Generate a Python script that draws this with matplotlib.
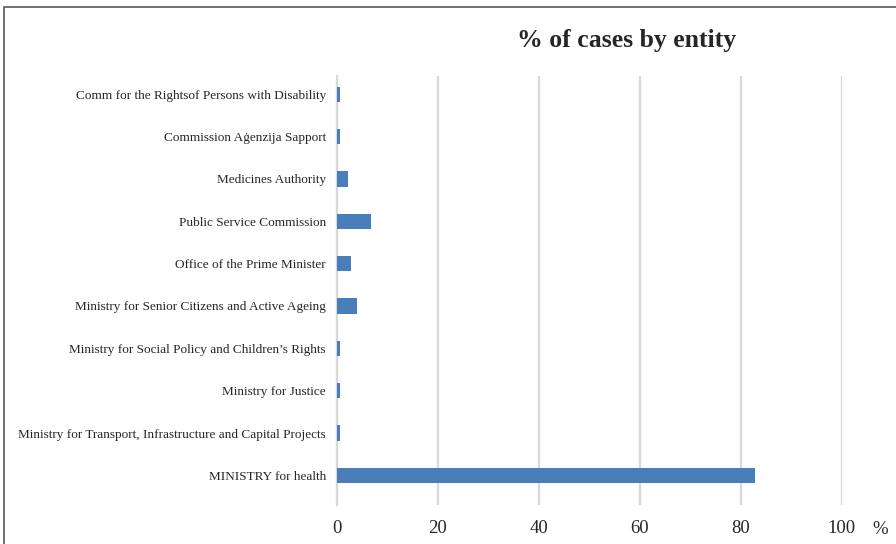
import matplotlib
matplotlib.use("Agg")
import matplotlib.pyplot as plt
from matplotlib.patches import Rectangle

categories = [
    "MINISTRY for health",
    "Ministry for Transport, Infrastructure and Capital Projects",
    "Ministry for Justice",
    "Ministry for Social Policy and Children\u2019s Rights",
    "Ministry for Senior Citizens and Active Ageing",
    "Office of the Prime Minister",
    "Public Service Commission",
    "Medicines Authority",
    "Commission A\u0121enzija Sapport",
    "Comm for the Rightsof Persons with Disability",
]
values = [82.8, 0.6, 0.6, 0.6, 4.0, 2.8, 6.8, 2.2, 0.6, 0.6]
xticks = [0, 20, 40, 60, 80, 100]
title = "% of cases by entity"

plt.rcParams['font.family'] = ['Liberation Serif', 'DejaVu Serif']

fig = plt.figure(figsize=(8.96, 5.44), dpi=100)
ax = fig.add_axes([337 / 896, 0.0717, (841.5 - 337) / 896, 0.8603 - 0.0717])

ypos = list(range(len(categories)))
ax.barh(ypos, values, height=0.36, color='#4a7ebb', zorder=3)
ax.set_xlim(0, 100)
ax.set_ylim(-0.70, 9.43)
ax.set_xticks(xticks)
ax.set_xticklabels([str(t) for t in xticks], fontsize=13.5, color='#262626')
ax.set_yticks(ypos)
ax.set_yticklabels(categories, fontsize=9.55, color='#262626')
ax.tick_params(axis='x', length=0, pad=11)
ax.tick_params(axis='y', length=0, pad=8)
ax.grid(axis='x', color='#d9d9d9', linewidth=1.6, zorder=0)
for s in ['top', 'right', 'bottom']:
    ax.spines[s].set_visible(False)
ax.spines['left'].set_color('#d9d9d9')
ax.spines['left'].set_linewidth(1.6)

fig.text(627 / 896, 1 - 40 / 544, title, ha='center', va='center',
         fontsize=18.5, fontweight='bold', color='#262626')
fig.text(880 / 896, 1 - 529 / 544, "%", ha='center', va='center',
         fontsize=13.5, color='#262626')

border = Rectangle((4 / 896, -0.1), 1.2, 1 - 7 / 544 + 0.1, transform=fig.transFigure,
                   fill=False, edgecolor='#595959', linewidth=1.2, clip_on=False)
fig.patches.append(border)

fig.savefig("out.png", dpi=100)
